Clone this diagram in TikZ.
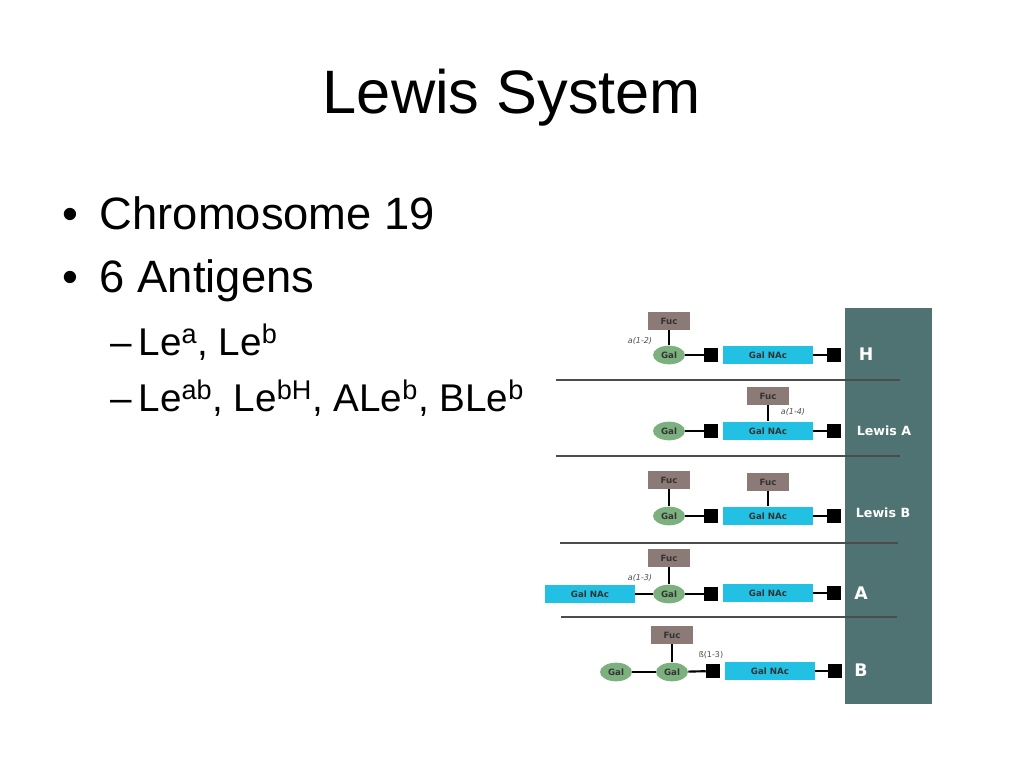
\documentclass[tikz,border=0pt]{standalone}
\usepackage{fontspec}
\usetikzlibrary{shapes.geometric}
\setmainfont{Liberation Sans}
\newfontfamily\vfont{DejaVu Sans}
\begin{document}
\begin{tikzpicture}[x=0.75pt,y=-0.75pt,
 fuc/.style={fill=fuccol,minimum width=32pt,minimum height=13pt,inner sep=0pt,font=\vfont\bfseries\fontsize{6.5}{6.5}\selectfont,text=black!80},
 gal/.style={ellipse,fill=galcol,minimum width=24pt,minimum height=14pt,inner sep=0pt,font=\vfont\bfseries\fontsize{6.5}{6.5}\selectfont,text=black!80},
 nac/.style={fill=naccol,minimum width=67pt,minimum height=14pt,inner sep=0pt,font=\vfont\bfseries\fontsize{6.5}{6.5}\selectfont,text=black!80},
 sq/.style={fill=black,minimum size=10.5pt,inner sep=0pt},
 lnk/.style={line width=1.6pt},
 sep/.style={line width=1.5pt,color=black!70},
 lab/.style={font=\vfont\bfseries\fontsize{9.5}{9.5}\selectfont,text=white},
 big/.style={font=\vfont\bfseries\fontsize{13}{13}\selectfont,text=white},
 ang/.style={font=\vfont\itshape\fontsize{6}{6}\selectfont,text=black!70}]
\definecolor{fuccol}{HTML}{8C7A77}
\definecolor{galcol}{HTML}{7DB07F}
\definecolor{naccol}{HTML}{22C0E2}
\definecolor{barcol}{HTML}{4F7373}
\useasboundingbox (0,0) rectangle (1024,768);
\node (title) at (512,98) {\fontsize{46}{46}\selectfont Lewis System};
\node[anchor=west] (b1) at (58,213) {\fontsize{34}{34}\selectfont •\hspace{16pt}Chromosome 19};
\node[anchor=west] (b2) at (58,281) {\fontsize{34}{34}\selectfont •\hspace{16pt}6 Antigens};
\node[anchor=west] (s1) at (106,342) {\fontsize{29}{29}\selectfont –\,Le\textsuperscript{a}, Le\textsuperscript{b}};
\node[anchor=west] (s2) at (106,398) {\fontsize{29}{29}\selectfont –\,Le\textsuperscript{ab}, Le\textsuperscript{bH}, ALe\textsuperscript{b}, BLe\textsuperscript{b}};
\fill[barcol] (845,308) rectangle (932,704);
\draw[sep] (556,380) -- (900,380);
\draw[sep] (556,456) -- (900,456);
\draw[sep] (560,543) -- (898,543);
\draw[sep] (561,617) -- (897,617);
% H
\node[fuc] (hf) at (669,321) {Fuc};
\node[gal] (hg) at (669,355) {Gal};
\node[sq] (hs1) at (711,355) {};
\node[nac] (hn) at (768,355) {Gal NAc};
\node[sq] (hs2) at (834,355) {};
\node[big] (hl) at (866,354) {H};
\node[ang] (ha) at (640,341) {a(1-2)};
\draw[lnk] (hf) -- (hg); \draw[lnk] (hg) -- (hs1); \draw[lnk] (hn) -- (hs2);
% Lewis A
\node[fuc] (af) at (768,396) {Fuc};
\node[gal] (ag) at (669,431) {Gal};
\node[sq] (as1) at (711,431) {};
\node[nac] (an) at (768,431) {Gal NAc};
\node[sq] (as2) at (834,431) {};
\node[lab] (al) at (884,431) {Lewis A};
\node[ang] (aa) at (793,412) {a(1-4)};
\draw[lnk] (af) -- (an); \draw[lnk] (ag) -- (as1); \draw[lnk] (an) -- (as2);
% Lewis B
\node[fuc] (bf1) at (669,480) {Fuc};
\node[fuc] (bf2) at (768,482) {Fuc};
\node[gal] (bg) at (669,516) {Gal};
\node[sq] (bs1) at (711,516) {};
\node[nac] (bn) at (768,516) {Gal NAc};
\node[sq] (bs2) at (834,516) {};
\node[lab] (bl) at (883,513) {Lewis B};
\draw[lnk] (bf1) -- (bg); \draw[lnk] (bf2) -- (bn); \draw[lnk] (bg) -- (bs1); \draw[lnk] (bn) -- (bs2);
% A
\node[fuc] (cf) at (669,558) {Fuc};
\node[nac] (cn0) at (590,594) {Gal NAc};
\node[gal] (cg) at (669,594) {Gal};
\node[sq] (cs1) at (711,594) {};
\node[nac] (cn) at (768,593) {Gal NAc};
\node[sq] (cs2) at (834,593) {};
\node[big] (cl) at (861,593) {A};
\node[ang] (ca) at (640,578) {a(1-3)};
\draw[lnk] (cf) -- (cg); \draw[lnk] (cn0) -- (cg); \draw[lnk] (cg) -- (cs1); \draw[lnk] (cn) -- (cs2);
% B
\node[fuc] (df) at (672,635) {Fuc};
\node[gal] (dg0) at (616,672) {Gal};
\node[gal] (dg) at (672,672) {Gal};
\node[sq] (ds1) at (713,671) {};
\node[nac] (dn) at (770,671) {Gal NAc};
\node[sq] (ds2) at (835,671) {};
\node[big] (dl) at (861,670) {B};
\node[ang,font=\vfont\fontsize{6}{6}\selectfont] (da) at (711,655) {ß(1-3)};
\draw[lnk] (df) -- (dg); \draw[lnk] (dg0) -- (dg); \draw[lnk] (dg) -- (ds1); \draw[lnk] (dn) -- (ds2);
\end{tikzpicture}
\end{document}
